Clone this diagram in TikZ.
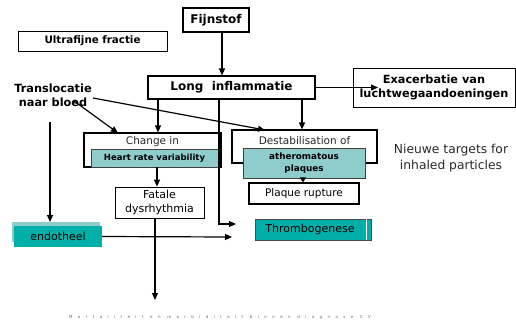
\documentclass[tikz,border=0pt]{standalone}
\usepackage{fontspec}
\setmainfont{DejaVu Sans}
\newfontfamily\spacedfont[LetterSpace=135]{DejaVu Sans}
\usetikzlibrary{arrows.meta}
\definecolor{tealdark}{RGB}{0,176,168}
\definecolor{teallight}{RGB}{143,204,204}
\definecolor{txtgray}{RGB}{40,40,40}
\tikzset{
  box/.style={draw=black,line width=1.1pt,fill=white,inner sep=0pt,align=center},
  tealbox/.style={draw=black!75,line width=0.9pt,fill=teallight,inner sep=0pt,align=center},
  darkbox/.style={fill=tealdark,inner sep=0pt,align=center},
  conn/.style={line width=1.2pt,-{Triangle[length=7pt,width=6pt]}},
}
\begin{document}
\begin{tikzpicture}[x=1pt,y=-1pt]
\useasboundingbox (0,0) rectangle (516,325);
% boxes
\node[box,minimum width=66pt,minimum height=24pt,font=\bfseries\fontsize{12}{14}\selectfont] (fijn) at (216,20) {Fijnstof};
\node[box,line width=0.8pt,minimum width=149pt,minimum height=20pt,font=\bfseries\fontsize{10.3}{12}\selectfont] (ultra) at (92.5,41) {Ultrafijne fractie};
\node[box,minimum width=167pt,minimum height=23pt,font=\bfseries\fontsize{12}{14}\selectfont] (long) at (231.5,87.5) {Long\ \ inflammatie};
\node[box,line width=0.8pt,minimum width=162pt,minimum height=39pt,font=\bfseries\fontsize{11.3}{14}\selectfont] (exac) at (434,87.5) {Exacerbatie van\\luchtwegaandoeningen};
\node[font=\bfseries\fontsize{11.3}{14}\selectfont,align=center,inner sep=0pt] (trans) at (53,95.5) {Translocatie\\naar bloed};
% change in
\node[box,minimum width=137pt,minimum height=34pt] (change) at (152.5,150) {};
\node[font=\fontsize{10.5}{12}\selectfont,text=txtgray,inner sep=0pt] (changet) at (152.5,142) {Change in};
\node[tealbox,minimum width=127pt,minimum height=18pt,font=\bfseries\fontsize{8.5}{10}\selectfont] (hrv) at (154.5,158) {Heart rate variability};
\node[box,line width=0.8pt,minimum width=89pt,minimum height=31pt,font=\fontsize{11}{13.5}\selectfont] (fatale) at (159.5,202.5) {Fatale\\dysrhythmia};
% destabilisation
\node[box,minimum width=145pt,minimum height=33pt] (destab) at (304.5,146.5) {};
\node[font=\fontsize{10.5}{12}\selectfont,text=txtgray,inner sep=0pt] (destabt) at (304.5,140.5) {Destabilisation of};
\node[tealbox,minimum width=122pt,minimum height=30pt,font=\bfseries\fontsize{8.8}{12}\selectfont] (athero) at (304,163) {atheromatous\\plaques};
\node[box,minimum width=110pt,minimum height=21pt,font=\fontsize{10.5}{12}\selectfont] (plaque) at (304,193.5) {Plaque rupture};
\node[font=\fontsize{12.3}{16}\selectfont,text=txtgray,align=center,inner sep=0pt] (nieuwe) at (451,158) {Nieuwe targets for\\inhaled particles};
% endotheel
\node[fill=teallight,minimum width=88pt,minimum height=20pt,inner sep=0pt] (endoshadow) at (56,232) {};
\node[darkbox,minimum width=88pt,minimum height=21pt,font=\fontsize{11}{13}\selectfont] (endo) at (58,236.5) {endotheel};
% thrombogenese
\node[darkbox,draw=black!70,line width=0.8pt,minimum width=116pt,minimum height=21pt,font=\fontsize{11}{13}\selectfont] (thromb) at (313,229.5) {\hspace*{-6pt}Thrombogenese};
\draw[white,line width=1pt] ([xshift=-5pt]thromb.north east) -- ([xshift=-5pt]thromb.south east);
% coordinates
\coordinate (bend) at (219,224);
\coordinate (thrombin) at (236,224);
\coordinate (endoend) at (232,237);
\coordinate (downend) at (155,300);
% connectors
\draw[conn] (fijn.south -| 222,0) -- (long.north -| 222,0);
\draw[conn] (long.east) -- (378,87.5) coordinate (exacin);
\draw[conn] (long.south -| 158,0) -- (change.north -| 158,0);
\draw[conn] (long.south -| 302,0) -- (destab.north -| 302,0);
\draw[conn] (long.south -| 219,0) -- (bend) -- (thrombin);
\draw[conn] (93,98) -- (265,130);
\draw[conn] (74,101) -- (118,133);
\draw[conn] (50,122) -- (50,222);
\draw[conn] (hrv.south -| 157,0) -- (fatale.north -| 157,0);
\draw[-{Triangle[length=5pt,width=6pt]},line width=1pt] (athero.south -| 303,0) -- (plaque.north -| 303,0);
\draw[conn] (fatale.south -| 155,0) -- (downend);
\draw[conn] (endo.east) -- (endoend);
% bottom text
\node[font=\spacedfont\fontsize{4}{5}\selectfont,text=black!60,inner sep=0pt] (bottom) at (220,317) {Mortaliteit en morbiditeit binnen diagnose CV};
\end{tikzpicture}
\end{document}
